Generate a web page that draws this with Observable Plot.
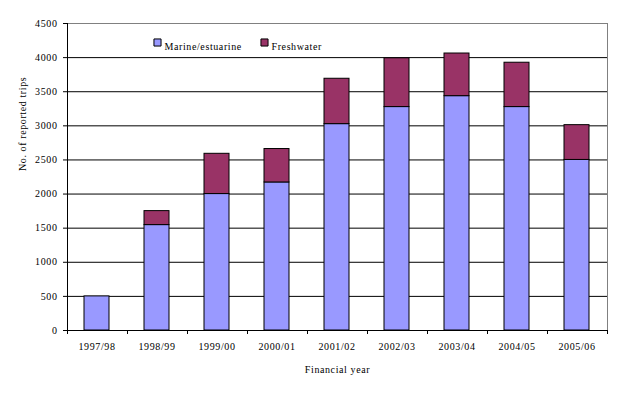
<!DOCTYPE html>
<html><head><meta charset="utf-8">
<script src="https://cdn.jsdelivr.net/npm/d3@7"></script>
<script src="https://cdn.jsdelivr.net/npm/@observablehq/plot@0.6"></script>
<style>body{margin:0;background:#fff}</style>
</head><body><div id="chart"></div>
<script>
const years = ["1997/98","1998/99","1999/00","2000/01","2001/02","2002/03","2003/04","2004/05","2005/06"];
const marine = [500,1545,2000,2170,3025,3275,3435,3275,2500];
const freshwater = [0,205,590,490,665,715,625,650,510];
const seriesNames = ["Marine/estuarine","Freshwater"];
const seriesColors = ["#9999FF","#993366"];
const yTicks = [0,500,1000,1500,2000,2500,3000,3500,4000,4500];
const yLabel = "No. of reported trips";
const xLabel = "Financial year";

const rows = years.flatMap((y, i) => [
  {year: y, series: seriesNames[0], value: marine[i]},
  {year: y, series: seriesNames[1], value: freshwater[i]}
]).filter(d => d.value > 0);

const W = 624, H = 396;
const mL = 67, mR = 17, mT = 23, mB = 66;

const edges = (index, scales, values, dim) => {
  const g = d3.create("svg:g");
  const left = dim.marginLeft, right = dim.width - dim.marginRight;
  const bottom = dim.height - dim.marginBottom, top = dim.marginTop;
  const n = years.length, step = (right - left) / n;
  for (let i = 0; i <= n; i++) {
    const xx = Math.round(left + i * step) + 0.5;
    g.append("line").attr("x1", xx).attr("x2", xx).attr("y1", bottom).attr("y2", bottom + 4).attr("stroke", "#000");
  }
  g.append("line").attr("x1", left + 0.5).attr("x2", left + 0.5).attr("y1", top).attr("y2", bottom).attr("stroke", "#000");
  return g.node();
};

const chart = Plot.plot({
  width: W, height: H,
  marginLeft: mL, marginRight: mR, marginTop: mT, marginBottom: mB,
  style: {fontFamily: "'Liberation Serif', 'Times New Roman', serif", fontSize: "10px", letterSpacing: "0.6px", background: "#fff", color: "#000"},
  x: {domain: years, paddingInner: 0.58, paddingOuter: 0.29, label: null},
  y: {domain: [0, 4500], label: null},
  color: {domain: seriesNames, range: seriesColors},
  marks: [
    Plot.ruleY(yTicks.filter(t => t > 0 && t < 4500), {stroke: "#000", strokeWidth: 1}),
    Plot.frame({stroke: "#808080"}),
    Plot.barY(rows, {x: "year", y: "value", fill: "series", stroke: "#000", strokeWidth: 1}),
    Plot.ruleY([0], {stroke: "#000"}),
    edges,
    Plot.axisX({tickSize: 0, tickPadding: 12, label: null}),
    Plot.axisY({ticks: yTicks, tickSize: 4, tickPadding: 6, label: null, tickFormat: d => String(d)}),
    Plot.dot([seriesNames[0]], {fill: d => d, stroke: "#000", strokeWidth: 1, symbol: "square", r: 4, frameAnchor: "top-left", dx: 90, dy: 19}),
    Plot.text([seriesNames[0]], {text: d => d, fill: "#000", textAnchor: "start", frameAnchor: "top-left", dx: 97, dy: 19}),
    Plot.dot([seriesNames[1]], {fill: d => d, stroke: "#000", strokeWidth: 1, symbol: "square", r: 4, frameAnchor: "top-left", dx: 197, dy: 19}),
    Plot.text([seriesNames[1]], {text: d => d, fill: "#000", textAnchor: "start", frameAnchor: "top-left", dx: 204, dy: 19}),
    Plot.text([yLabel], {text: d => d, fill: "#000", rotate: -90, frameAnchor: "left", dx: -45, dy: -6}),
    Plot.text([xLabel], {text: d => d, fill: "#000", frameAnchor: "bottom", dy: 42})
  ]
});
document.getElementById("chart").appendChild(chart);
</script>
</body></html>
